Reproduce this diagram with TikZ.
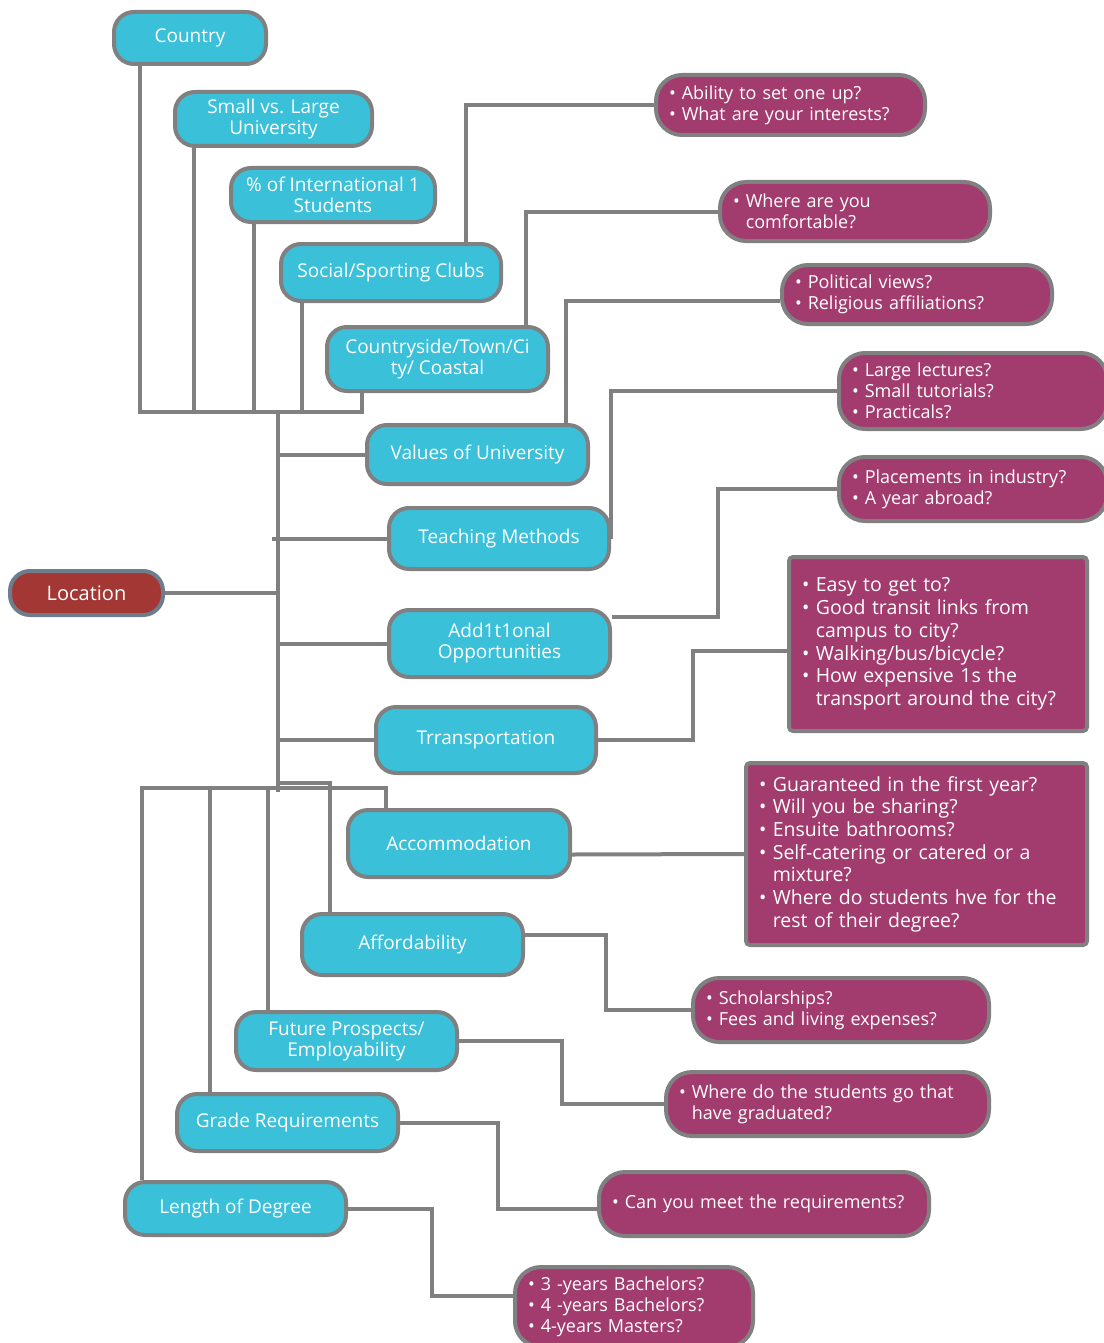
\documentclass[tikz,border=0pt]{standalone}
\usepackage{fontspec}
\setmainfont{Open Sans}
\usetikzlibrary{backgrounds}
\definecolor{catblue}{RGB}{59,192,218}
\definecolor{notepurple}{RGB}{162,59,110}
\definecolor{rootred}{RGB}{163,55,52}
\definecolor{rootedge}{RGB}{110,125,140}
\definecolor{linegrey}{RGB}{128,128,128}
\newcommand\qbul{\textbullet\ }
\newcommand\qind{\hphantom{\textbullet\ }}

\begin{document}
\begin{tikzpicture}[x=1pt,y=-1pt,
  cat/.style={draw=linegrey,line width=4pt,fill=catblue,text=white,rounded corners=20pt,
    align=center,inner sep=2pt,font=\fontsize{19}{21}\selectfont},
  root/.style={cat,draw=rootedge,fill=rootred,font=\fontsize{20}{22}\selectfont},
  note/.style={draw=linegrey,line width=4pt,fill=notepurple,text=white,rounded corners=26pt,
    align=left,inner xsep=13pt,inner ysep=2pt,font=\fontsize{18}{21}\selectfont},
  bignote/.style={note,rounded corners=4pt,font=\fontsize{19.5}{22.7}\selectfont},
  dim/.style 2 args={minimum width=#1,minimum height=#2},
  link/.style={draw=linegrey,line width=4pt}]
  \useasboundingbox (0,0) rectangle (1103,1343);

  % topics
  \node[cat,dim={152pt}{52pt}] (country) at (190,38) {Country};
  \node[cat,dim={197pt}{54pt}] (size) at (273.5,119) {Small vs. Large\\University};
  \node[cat,dim={204pt}{54pt}] (intl) at (333,195) {\% of International 1\\Students};
  \node[cat,dim={220pt}{57pt}] (clubs) at (391,272.5) {Social/Sporting Clubs};
  \node[cat,dim={221pt}{64pt}] (setting) at (437.5,359) {Countryside/Town/Ci\\ty/ Coastal};
  \node[cat,dim={221pt}{59pt}] (values) at (477.5,454.5) {Values of University};
  \node[cat,dim={220pt}{61pt}] (teaching) at (499,538.5) {Teaching Methods};
  \node[cat,dim={221pt}{67pt}] (extras) at (499.5,643.5) {Add1t1onal\\Opportunities};
  \node[cat,dim={220pt}{66pt}] (transport) at (486,740) {Trransportation};
  \node[cat,dim={222pt}{67pt}] (housing) at (459,843.5) {Accommodation};
  \node[cat,dim={221pt}{61pt}] (cost) at (412.5,944.5) {Affordability};
  \node[cat,dim={221pt}{58pt}] (career) at (346.5,1041) {Future Prospects/\\Employability};
  \node[cat,dim={221pt}{57pt}] (grades) at (287.5,1122.5) {Grade Requirements};
  \node[cat,dim={221pt}{53pt}] (length) at (235.5,1208.5) {Length of Degree};
  \node[root,dim={153pt}{44pt}] (location) at (86.5,593) {Location};

  % questions
  \node[note,text width=243pt,minimum height=60pt] (clubsq) at (790.5,105)
    {\qbul Ability to set one up?\\\qbul What are your interests?};
  \node[note,text width=244pt,minimum height=59pt] (settingq) at (855,211.5)
    {\qbul Where are you\\\qind comfortable?};
  \node[note,text width=244pt,minimum height=59pt] (valuesq) at (917,294.5)
    {\qbul Political views?\\\qbul Religious affiliations?};
  \node[note,text width=242pt,minimum height=76pt] (teachingq) at (973,391)
    {\qbul Large lectures?\\\qbul Small tutorials?\\\qbul Practicals?};
  \node[note,text width=242pt,minimum height=64pt] (extrasq) at (973,489)
    {\qbul Placements in industry?\\\qbul A year abroad?};
  \node[bignote,text width=272pt,minimum height=174pt] (transportq) at (938,644)
    {\qbul Easy to get to?\\\qbul Good transit links from\\\qind campus to city?\\
     \qbul Walking/bus/bicycle?\\\qbul How expensive 1s the\\\qind transport around the city?};
  \node[bignote,text width=315pt,minimum height=182pt] (housingq) at (916.5,854)
    {\qbul Guaranteed in the first year?\\\qbul Will you be sharing?\\\qbul Ensuite bathrooms?\\
     \qbul Self-catering or catered or a\\\qind mixture?\\
     \qbul Where do students hve for the\\\qind rest of their degree?};
  \node[note,text width=270pt,minimum height=64pt] (costq) at (841,1010)
    {\qbul Scholarships?\\\qbul Fees and living expenses?};
  \node[note,text width=297pt,minimum height=64pt] (careerq) at (827.5,1104)
    {\qbul Where do the students go that\\\qind have graduated?};
  \node[note,text width=304pt,minimum height=64pt] (gradesq) at (764,1204)
    {\qbul Can you meet the requirements?};
  \node[note,text width=212pt,minimum height=80pt] (lengthq) at (634,1307)
    {\qbul 3 -years Bachelors?\\\qbul 4 -years Bachelors?\\\qbul 4-years Masters?};

  \coordinate (topjoin) at (278,412);
  \coordinate (botjoin) at (278,788);

  \begin{scope}[on background layer]
    % upper comb
    \draw[link] ([xshift=28pt]country.south west) |- (topjoin);
    \draw[link] ([xshift=21pt]size.south west) |- (topjoin);
    \draw[link] ([xshift=25pt]intl.south west) |- (topjoin);
    \draw[link] ([xshift=23pt]clubs.south west) |- (topjoin);
    \draw[link] ([xshift=37pt]setting.south west) |- (topjoin);
    \draw[link] (topjoin) -- ([yshift=-4pt]botjoin);
    % spine branches
    \draw[link] (values.west) -- (values.west -| topjoin);
    \draw[link] (teaching.west) -- ([xshift=-6pt]teaching.west -| topjoin);
    \draw[link] (location.east) -- (location.east -| topjoin);
    \draw[link] (extras.west) -- (extras.west -| topjoin);
    \draw[link] (transport.west) -- (transport.west -| topjoin);
    % lower comb
    \draw[link] ([xshift=19pt]length.north west) |- (botjoin);
    \draw[link] ([xshift=35pt]grades.north west) |- (botjoin);
    \draw[link] ([xshift=34pt]career.north west) |- (botjoin);
    \draw[link] ([xshift=30pt]cost.north west) |- ([yshift=5pt]botjoin);
    \draw[link] ([xshift=40pt]housing.north west) |- (botjoin);
    % to the questions
    \draw[link] ([xshift=-37pt]clubs.north east) |- (clubsq.west);
    \draw[link] ([xshift=-24pt]setting.north east) |- (settingq.west);
    \draw[link] ([xshift=-24pt]values.north east) |- ([yshift=-6pt]valuesq.west);
    \draw[link] (teaching.east) |- (teachingq.west);
    \draw[link] ([yshift=27pt]extras.east) -- ++(106,0) |- (extrasq.west);
    \draw[link] (transport.east) -- ++(95,0) |- ([yshift=-7pt]transportq.west);
    \draw[link] ([yshift=-11pt]housing.east) -- (housingq.west);
    \draw[link] ([yshift=10pt]cost.east) -- ++(81,0) |- (costq.west);
    \draw[link] (career.east) -- ++(103,0) |- (careerq.west);
    \draw[link] (grades.east) -- ++(98,0) |- ([yshift=-5pt]gradesq.west);
    \draw[link] (length.east) -- ++(84,0) |- ([yshift=11pt]lengthq.west);
  \end{scope}
\end{tikzpicture}
\end{document}
